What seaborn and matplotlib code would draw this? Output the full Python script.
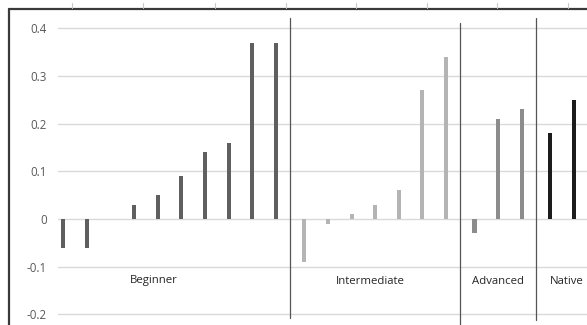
import numpy as np
import pandas as pd
import matplotlib
matplotlib.use("Agg")
import matplotlib.pyplot as plt
from matplotlib.lines import Line2D
import seaborn as sns

groups = ["Beginner", "Intermediate", "Advanced", "Native"]
beginner = [-0.06, -0.06, 0.0, 0.03, 0.05, 0.09, 0.14, 0.16, 0.37, 0.37]
intermediate = [-0.09, -0.01, 0.01, 0.03, 0.06, 0.27, 0.34]
advanced = [-0.03, 0.21, 0.23]
native = [0.18, 0.25]
ytick_labels = ["-0.2", "-0.1", "0", "0.1", "0.2", "0.3", "0.4"]
colors = {"Beginner": "#5f5f5f", "Intermediate": "#b4b4b4",
          "Advanced": "#8c8c8c", "Native": "#1c1c1c"}

series = [beginner, intermediate, advanced, native]
gap = 1.2
rows = []
pos = 0.0
bounds = []
for gi, (g, vals) in enumerate(zip(groups, series)):
    start = pos
    for v in vals:
        rows.append({"pos": round(pos, 3), "value": v, "group": g})
        pos += 1
    bounds.append((start, pos - 1))
    pos += gap - 1
df = pd.DataFrame(rows)

sns.set_style("white")
plt.rcParams["font.family"] = ["Open Sans", "DejaVu Sans"]

W, H = 587, 325
fig = plt.figure(figsize=(W / 100, H / 100), dpi=100)
ax = fig.add_axes([58 / W, 0, (W - 58) / W, (H - 9) / H])

px_per_unit = 476.7
zero_px = 219
top_val = (zero_px - 9) / px_per_unit
bot_val = -(H - zero_px) / px_per_unit
slot = 23.65

yt = [-0.2, -0.1, 0, 0.1, 0.2, 0.3, 0.4]
ax.grid(axis="y", color="#d9d9d9", lw=1)
ax.set_axisbelow(True)

sns.barplot(data=df, x="pos", y="value", hue="group", palette=colors,
            native_scale=True, dodge=False, width=0.17, legend=False,
            ax=ax, saturation=1, linewidth=0)
ax.set_xlim(-5 / slot, (W - 63) / slot)
ax.set_ylim(bot_val, top_val)
ax.set_yticks(yt)
ax.set_yticklabels(ytick_labels)

ax.tick_params(axis="y", length=0, pad=8, labelsize=8.3, labelcolor="#595959")
ax.tick_params(axis="x", bottom=False, labelbottom=False)
ax.set_xlabel("")
ax.set_ylabel("")
for s in ax.spines.values():
    s.set_visible(False)

def px2val(p):
    return (zero_px - p) / px_per_unit

# group dividers
div_spans = [(18, 318), (23, 325), (18, 320)]
for i in range(3):
    x = (bounds[i][1] + bounds[i + 1][0]) / 2
    y0, y1 = div_spans[i]
    ax.plot([x, x], [px2val(y0), px2val(y1)], color="#555555", lw=0.9,
            clip_on=False)

# group labels
label_px = [154, 370, 498, 567]
for g, lx in zip(groups, label_px):
    ax.text((lx - 63) / slot, px2val(281), g, ha="center", va="center",
            fontsize=8.2, color="#262626")

# outer frame (left and top)
fig.add_artist(Line2D([9 / W, 9 / W], [0, 1 - 9 / H], color="#3a3a3a", lw=1.6,
                      transform=fig.transFigure))
fig.add_artist(Line2D([9 / W, 1], [1 - 9 / H, 1 - 9 / H], color="#3a3a3a",
                      lw=1.6, transform=fig.transFigure))
for tx in [72, 143, 215, 286, 356, 427, 497, 568]:
    fig.add_artist(Line2D([tx / W, tx / W], [1 - 3 / H, 1 - 8 / H],
                          color="#c8c8c8", lw=0.8, transform=fig.transFigure))

fig.savefig("out.png", dpi=100)
